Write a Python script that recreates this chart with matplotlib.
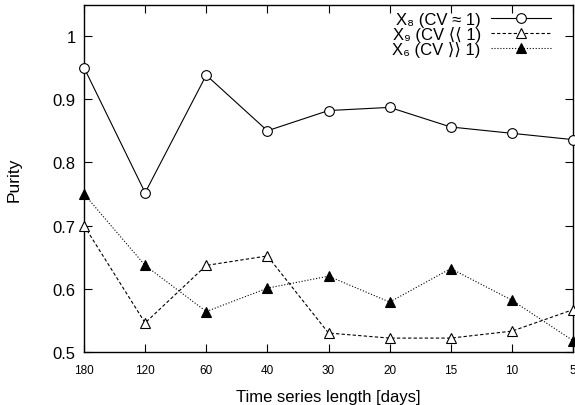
import matplotlib
matplotlib.use("Agg")
import matplotlib.pyplot as plt

plt.rcParams['font.family'] = ['Liberation Sans', 'DejaVu Sans', 'Noto Sans CJK JP']

days = ["180", "120", "60", "40", "30", "20", "15", "10", "5"]
x8 = [0.950, 0.752, 0.938, 0.850, 0.882, 0.887, 0.856, 0.846, 0.836]
x9 = [0.700, 0.546, 0.637, 0.652, 0.530, 0.522, 0.522, 0.533, 0.567]
x6 = [0.750, 0.637, 0.564, 0.601, 0.620, 0.579, 0.632, 0.582, 0.518]

labels = ["X₈ (CV ≈ 1)", "X₉ (CV ⟨⟨ 1)", "X₆ (CV ⟩⟩ 1)"]

fig = plt.figure(figsize=(5.75, 4.06), dpi=100)
ax = fig.add_axes([84/575, 1-353/406, (573-84)/575, (353-6)/406])

pos = list(range(len(days)))
ax.plot(pos, x8, '-', color='black', lw=0.8, marker='o', ms=7, mfc='white', mec='black', mew=0.8, label=labels[0], clip_on=False, zorder=3)
ax.plot(pos, x9, '--', dashes=(3, 2), color='black', lw=0.8, marker='^', ms=7, mfc='white', mec='black', mew=0.8, label=labels[1], clip_on=False, zorder=3)
ax.plot(pos, x6, ':', color='black', lw=0.8, marker='^', ms=7, mfc='black', mec='black', mew=0.8, label=labels[2], clip_on=False, zorder=3)

ax.set_xlim(0, len(days) - 1)
ax.set_ylim(0.5, 1.049)
ax.set_xticks(pos)
ax.set_xticklabels(days)
ax.set_yticks([0.5, 0.6, 0.7, 0.8, 0.9, 1.0])
ax.set_yticklabels(["0.5", "0.6", "0.7", "0.8", "0.9", "1"])
ax.tick_params(axis='both', direction='in', top=True, right=True, length=6, width=0.8)
ax.tick_params(axis='x', labelsize=8.5, pad=9)
ax.tick_params(axis='y', labelsize=12, pad=6)
for s in ax.spines.values():
    s.set_linewidth(1.0)

ax.set_xlabel("Time series length [days]", fontsize=12, labelpad=9)
ax.set_ylabel("Purity", fontsize=12.5, labelpad=22)

leg = ax.legend(loc='upper right', frameon=False, markerfirst=False, fontsize=12,
                handlelength=3.6, labelspacing=-0.05, borderaxespad=0.2, handletextpad=0.6,
                bbox_to_anchor=(0.975, 1.01))

fig.savefig("out.png", dpi=100)
